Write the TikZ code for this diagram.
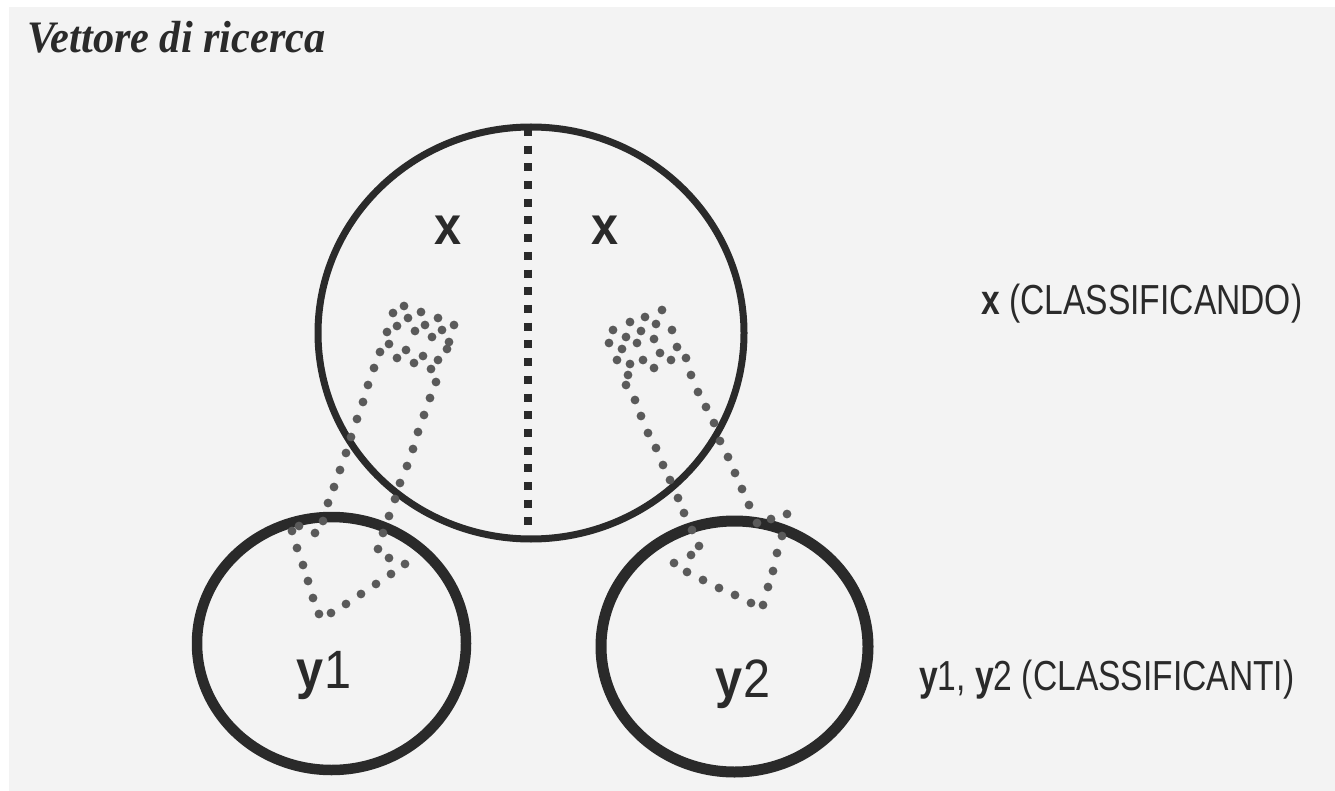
\documentclass[tikz,border=0pt]{standalone}
\usepackage{fontspec}
\setmainfont{Liberation Serif}
\newfontfamily\titlefont[FakeStretch=0.94]{Liberation Serif}
\newfontfamily\labfont[FakeStretch=0.8]{Liberation Sans}
\newfontfamily\innerfont[FakeStretch=0.9]{Liberation Sans}
\definecolor{ink}{HTML}{2A2A2A}
\definecolor{dotc}{HTML}{5A5A5A}
\definecolor{paper}{HTML}{F3F3F3}
\tikzset{
  ring/.style={draw=ink, line width=#1},
  dotmark/.style={fill=dotc},
  caption/.style={anchor=base west, inner sep=0pt, text=ink, font=\labfont\fontsize{42}{42}\selectfont},
  inlabel/.style={anchor=base, inner sep=0pt, text=ink, font=\innerfont\fontsize{54}{54}\selectfont},
}
\begin{document}
\begin{tikzpicture}[x=1pt,y=-1pt]
\useasboundingbox (0,0) rectangle (1335,791);
\fill[white] (0,0) rectangle (1335,791);
\fill[paper] (9,7) rectangle (1335,791);

% title
\node[anchor=base west, inner sep=0pt, text=ink, font=\titlefont\bfseries\itshape\fontsize{45}{45}\selectfont] (title) at (27,53) {Vettore di ricerca};

% centres of the three sets
\coordinate (cx) at (531,333);
\coordinate (cy1) at (331.5,643.5);
\coordinate (cy2) at (734.5,646.5);

% the sets
\draw[ring=7] (cx) ellipse [x radius=213, y radius=206];
\draw[ring=10.5] (cy1) ellipse [x radius=134.5, y radius=126.5];
\draw[ring=11] (cy2) ellipse [x radius=133.5, y radius=125.5];

% dividing line of the classificando
\coordinate (dtop) at (528,128);
\coordinate (dbot) at (528,530);
\draw[ink, line width=8, dash pattern=on 8 off 9.7] (dtop) -- (dbot);

% left dotted vector: head cluster, shaft and arrow tip into y1
\foreach \a/\b in {
  404/306,393/313,421/312,408/318,438/318,454/325,387/332,397/326,415/331,425/325,
  442/330,432/337,449/342,447/349,389/344,380/352,406/350,397/358,423/356,414/363,
  438/360,431/369,
  374/368,368/385,363/402,357/419,351/437,346/453,340/470,334/487,328/503,323/521,
  315/533,299/526,292/531,
  297/548,303/565,308/581,313/598,319/614,331/613,
  346/604,361/594,376/584,391/574,405/564,389/558,378/549,
  383/533,389/516,395/499,400/483,407/466,413/449,418/432,424/415,430/398,436/382}
  \fill[dotmark] (\a,\b) circle [radius=4.4];

% right dotted vector: head cluster, shaft and arrow tip into y2
\foreach \a/\b in {
  662/310,645/317,630/322,656/324,613/330,641/331,626/337,672/330,654/339,609/343,
  637/343,622/349,677/347,660/353,617/360,643/360,671/360,630/364,654/368,686/358,
  628/375,
  626/385,635/400,641/416,648/433,656/448,663/465,670/480,678/498,684/513,692/530,699/546,
  691/555,674/563,687/572,703/580,719/588,735/595,751/603,763/605,
  768/587,773/571,777/553,782/536,787/514,771/519,757/523,
  749/505,742/489,735/473,728/457,720/441,714/423,706/407,698/392,691/375}
  \fill[dotmark] (\a,\b) circle [radius=4.4];

% labels inside the sets
\node[inlabel] (xl) at (448,245) {\bfseries x};
\node[inlabel] (xr) at (605,245) {\bfseries x};
\node[inlabel] (y1) at (324,688) {\textbf{y}1};
\node[inlabel] (y2) at (743,697) {\textbf{y}2};

% legend
\node[caption] (legx) at (981,315) {\textbf{x} (CLASSIFICANDO)};
\node[caption] (legy) at (919,690) {\textbf{y}1, \textbf{y}2 (CLASSIFICANTI)};
\end{tikzpicture}
\end{document}
